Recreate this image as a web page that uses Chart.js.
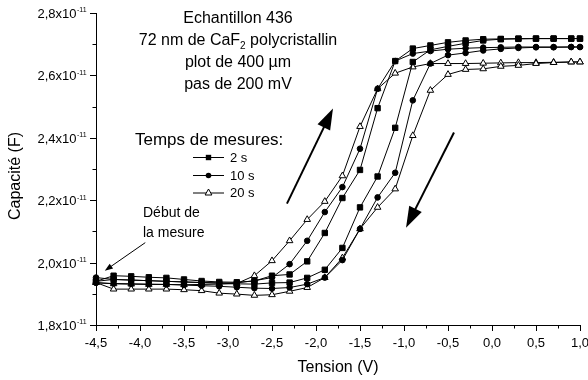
<!DOCTYPE html>
<html lang="fr">
<head>
<meta charset="utf-8">
<title>Capacité - Tension</title>
<script src="https://cdn.jsdelivr.net/npm/chart.js"></script>
<style>
  html, body { margin: 0; padding: 0; background: #fff; }
  #cv { display: block; }
</style>
</head>
<body>
<canvas id="cv" width="588" height="380"></canvas>
<script>
// tensions balayées (V), pas de 200 mV
const tension = [-4.5, -4.3, -4.1, -3.9, -3.7, -3.5, -3.3, -3.1, -2.9, -2.7, -2.5, -2.3, -2.1, -1.9, -1.7,
                 -1.5, -1.3, -1.1, -0.9, -0.7, -0.5, -0.3, -0.1, 0.1, 0.3, 0.5, 0.7, 0.9, 1.0];

// capacités en 1e-11 F : aller (-4,5 V -> 1 V) puis retour, rangées par tension croissante
const aller2s = [1.940, 1.958, 1.956, 1.953, 1.951, 1.946, 1.941, 1.938, 1.937, 1.941, 1.958, 1.962, 2.004, 2.095, 2.207,
                 2.297, 2.495, 2.646, 2.686, 2.696, 2.706, 2.712, 2.716, 2.717, 2.718, 2.718, 2.718, 2.718, 2.718];
const retour2s = [1.940, 1.946, 1.944, 1.942, 1.940, 1.938, 1.936, 1.934, 1.932, 1.931, 1.935, 1.936, 1.951, 1.977, 2.047,
                  2.177, 2.276, 2.432, 2.643, 2.682, 2.693, 2.703, 2.712, 2.716, 2.717, 2.718, 2.718, 2.718, 2.718];
const aller10s = [1.952, 1.946, 1.944, 1.942, 1.940, 1.938, 1.936, 1.935, 1.935, 1.942, 1.952, 1.995, 2.070, 2.162, 2.242,
                  2.365, 2.557, 2.646, 2.670, 2.678, 2.684, 2.687, 2.689, 2.690, 2.691, 2.691, 2.691, 2.691, 2.691];
const retour10s = [1.935, 1.933, 1.932, 1.931, 1.930, 1.928, 1.926, 1.924, 1.921, 1.918, 1.917, 1.920, 1.931, 1.952, 2.008,
                   2.108, 2.209, 2.288, 2.520, 2.638, 2.665, 2.672, 2.680, 2.685, 2.688, 2.690, 2.690, 2.691, 2.691];
const aller20s = [1.936, 1.932, 1.931, 1.930, 1.930, 1.929, 1.930, 1.931, 1.933, 1.958, 2.006, 2.070, 2.138, 2.196, 2.278,
                  2.436, 2.557, 2.607, 2.627, 2.638, 2.638, 2.638, 2.639, 2.640, 2.641, 2.641, 2.642, 2.643, 2.643];
const retour20s = [1.936, 1.915, 1.915, 1.915, 1.915, 1.913, 1.910, 1.902, 1.899, 1.895, 1.897, 1.908, 1.920, 1.952, 2.015,
                   2.108, 2.177, 2.236, 2.407, 2.552, 2.603, 2.619, 2.621, 2.629, 2.632, 2.638, 2.641, 2.643, 2.643];

const seriesNoms = ['2 s', '10 s', '20 s'];

// graduations
const ticksX = [-4.5, -4.0, -3.5, -3.0, -2.5, -2.0, -1.5, -1.0, -0.5, 0.0, 0.5, 1.0];
const labelsX = ['-4,5', '-4,0', '-3,5', '-3,0', '-2,5', '-2,0', '-1,5', '-1,0', '-0,5', '0,0', '0,5', '1,0'];
const ticksY = [1.8, 2.0, 2.2, 2.4, 2.6, 2.8];
const labelsY = ['1,8x10', '2,0x10', '2,2x10', '2,4x10', '2,6x10', '2,8x10'];

const police = "'Liberation Sans', Arial, sans-serif";

// un balayage aller puis retour forme la boucle
const boucle = (aller, retour) => {
    const pts = tension.map((v, i) => ({ x: v, y: aller[i] }));
    for (let i = tension.length - 1; i >= 0; i--) {
        pts.push({ x: tension[i], y: retour[i] });
    }
    return pts;
};

const serie = (label, data, style, rayon, fond) => ({
    label: label,
    data: data,
    showLine: true,
    borderColor: '#000',
    borderWidth: 1,
    pointStyle: style,
    pointRadius: rayon,
    pointBackgroundColor: fond,
    pointBorderColor: '#000',
    pointBorderWidth: 1,
    clip: false
});

function fleche(ctx, x1, y1, x2, y2, epaisseur, tete, demi) {
    const a = Math.atan2(y2 - y1, x2 - x1);
    const c = Math.cos(a), s = Math.sin(a);
    ctx.lineWidth = epaisseur;
    ctx.beginPath();
    ctx.moveTo(x1, y1);
    ctx.lineTo(x2 - tete * 0.8 * c, y2 - tete * 0.8 * s);
    ctx.stroke();
    ctx.beginPath();
    ctx.moveTo(x2, y2);
    ctx.lineTo(x2 - tete * c - demi * s, y2 - tete * s + demi * c);
    ctx.lineTo(x2 - tete * c + demi * s, y2 - tete * s - demi * c);
    ctx.closePath();
    ctx.fill();
}

function marqueur(ctx, style, x, y) {
    ctx.beginPath();
    if (style === 'rect') {
        ctx.rect(x - 2.7, y - 2.7, 5.4, 5.4);
        ctx.fillStyle = '#000';
        ctx.fill();
    } else if (style === 'circle') {
        ctx.arc(x, y, 2.8, 0, Math.PI * 2);
        ctx.fillStyle = '#000';
        ctx.fill();
    } else {
        ctx.moveTo(x, y - 4);
        ctx.lineTo(x + 3.4, y + 2);
        ctx.lineTo(x - 3.4, y + 2);
        ctx.closePath();
        ctx.fillStyle = '#fff';
        ctx.fill();
        ctx.lineWidth = 1;
        ctx.stroke();
    }
    ctx.fillStyle = '#000';
}

const dessin = {
    id: 'dessin',
    afterDraw(chart) {
        const { ctx, chartArea: a, scales: { x, y } } = chart;
        ctx.save();
        ctx.strokeStyle = '#000';
        ctx.fillStyle = '#000';
        ctx.lineWidth = 1;

        // graduations de l'axe X (majeures + mineures)
        ctx.beginPath();
        ticksX.forEach((v, i) => {
            const px = Math.round(x.getPixelForValue(v)) + 0.5;
            ctx.moveTo(px, a.bottom);
            ctx.lineTo(px, a.bottom + 6);
            if (i < ticksX.length - 1) {
                const pm = Math.round(x.getPixelForValue(v + 0.25)) + 0.5;
                ctx.moveTo(pm, a.bottom);
                ctx.lineTo(pm, a.bottom + 3.5);
            }
        });
        ticksY.forEach((v, i) => {
            const py = Math.round(y.getPixelForValue(v)) + 0.5;
            ctx.moveTo(a.left, py);
            ctx.lineTo(a.left - 6, py);
            if (i < ticksY.length - 1) {
                const pm = Math.round(y.getPixelForValue(v + 0.1)) + 0.5;
                ctx.moveTo(a.left, pm);
                ctx.lineTo(a.left - 3.5, pm);
            }
        });
        ctx.stroke();

        // étiquettes des graduations
        ctx.font = '13px ' + police;
        ctx.textAlign = 'center';
        ctx.textBaseline = 'middle';
        ticksX.forEach((v, i) => {
            ctx.fillText(labelsX[i], x.getPixelForValue(v), a.bottom + 18);
        });
        ticksY.forEach((v, i) => {
            const py = y.getPixelForValue(v);
            ctx.font = '13px ' + police;
            ctx.textAlign = 'right';
            ctx.fillText(labelsY[i], 76.5, py + 1.5);
            ctx.font = '7px ' + police;
            ctx.textAlign = 'left';
            ctx.fillText('-11', 77, py - 2.5);
        });

        // titres des axes
        ctx.font = '16px ' + police;
        ctx.textAlign = 'center';
        ctx.fillText('Tension (V)', 338, 368);
        ctx.save();
        ctx.translate(16, 176);
        ctx.rotate(-Math.PI / 2);
        ctx.fillText('Capacité (F)', 0, 0);
        ctx.restore();

        // description de l'échantillon
        const cx = 238;
        ctx.fillText('Echantillon 436', cx, 18.5);
        const t1 = '72 nm de CaF', t2 = ' polycristallin';
        ctx.font = '16px ' + police;
        const w1 = ctx.measureText(t1).width, w2 = ctx.measureText(t2).width;
        ctx.font = '10px ' + police;
        const wi = ctx.measureText('2').width;
        const x0 = cx - (w1 + wi + w2) / 2;
        ctx.textAlign = 'left';
        ctx.font = '16px ' + police;
        ctx.fillText(t1, x0, 41);
        ctx.font = '10px ' + police;
        ctx.fillText('2', x0 + w1, 46);
        ctx.font = '16px ' + police;
        ctx.fillText(t2, x0 + w1 + wi, 41);
        ctx.textAlign = 'center';
        ctx.fillText('plot de 400 µm', cx, 63);
        ctx.fillText('pas de 200 mV', cx, 85);

        // légende
        ctx.textAlign = 'left';
        ctx.font = '17px ' + police;
        ctx.fillText('Temps de mesures:', 135, 140);
        const styles = ['rect', 'circle', 'triangle'];
        const ly = [157, 175, 192.5];
        ctx.font = '13px ' + police;
        seriesNoms.forEach((nom, i) => {
            ctx.lineWidth = 1;
            ctx.beginPath();
            ctx.moveTo(193, ly[i] + 0.5);
            ctx.lineTo(224, ly[i] + 0.5);
            ctx.stroke();
            marqueur(ctx, styles[i], 208.5, ly[i] + 0.5);
            ctx.fillText(nom, 230, ly[i] + 1);
        });

        // début de la mesure
        ctx.font = '14px ' + police;
        ctx.fillText('Début de', 143, 213);
        ctx.fillText('la mesure', 143, 233);
        fleche(ctx, x.getPixelForValue(-3.94), y.getPixelForValue(2.064),
               x.getPixelForValue(-4.40), y.getPixelForValue(1.974), 1, 8, 3);

        // sens du balayage
        fleche(ctx, x.getPixelForValue(-2.33), y.getPixelForValue(2.189),
               x.getPixelForValue(-1.807), y.getPixelForValue(2.494), 2, 21, 7);
        fleche(ctx, x.getPixelForValue(-0.432), y.getPixelForValue(2.417),
               x.getPixelForValue(-0.977), y.getPixelForValue(2.112), 2, 21, 7);

        ctx.restore();
    }
};

new Chart(document.getElementById('cv'), {
    type: 'scatter',
    data: {
        datasets: [
            serie(seriesNoms[0], boucle(aller2s, retour2s), 'rect', 3.8, '#000'),
            serie(seriesNoms[1], boucle(aller10s, retour10s), 'circle', 2.8, '#000'),
            serie(seriesNoms[2], boucle(aller20s, retour20s), 'triangle', 3.8, '#fff')
        ]
    },
    options: {
        responsive: false,
        animation: false,
        events: [],
        layout: { padding: { left: 96, right: 8, top: 13, bottom: 55 } },
        plugins: { legend: { display: false }, tooltip: { enabled: false } },
        scales: {
            x: {
                type: 'linear', min: -4.5, max: 1.0,
                ticks: { display: false },
                grid: { display: false },
                border: { color: '#000', width: 1 },
                afterFit: s => { s.height = 0; }
            },
            y: {
                type: 'linear', min: 1.8, max: 2.8,
                ticks: { display: false },
                grid: { display: false },
                border: { color: '#000', width: 1 },
                afterFit: s => { s.width = 0; }
            }
        }
    },
    plugins: [dessin]
});
</script>
</body>
</html>
